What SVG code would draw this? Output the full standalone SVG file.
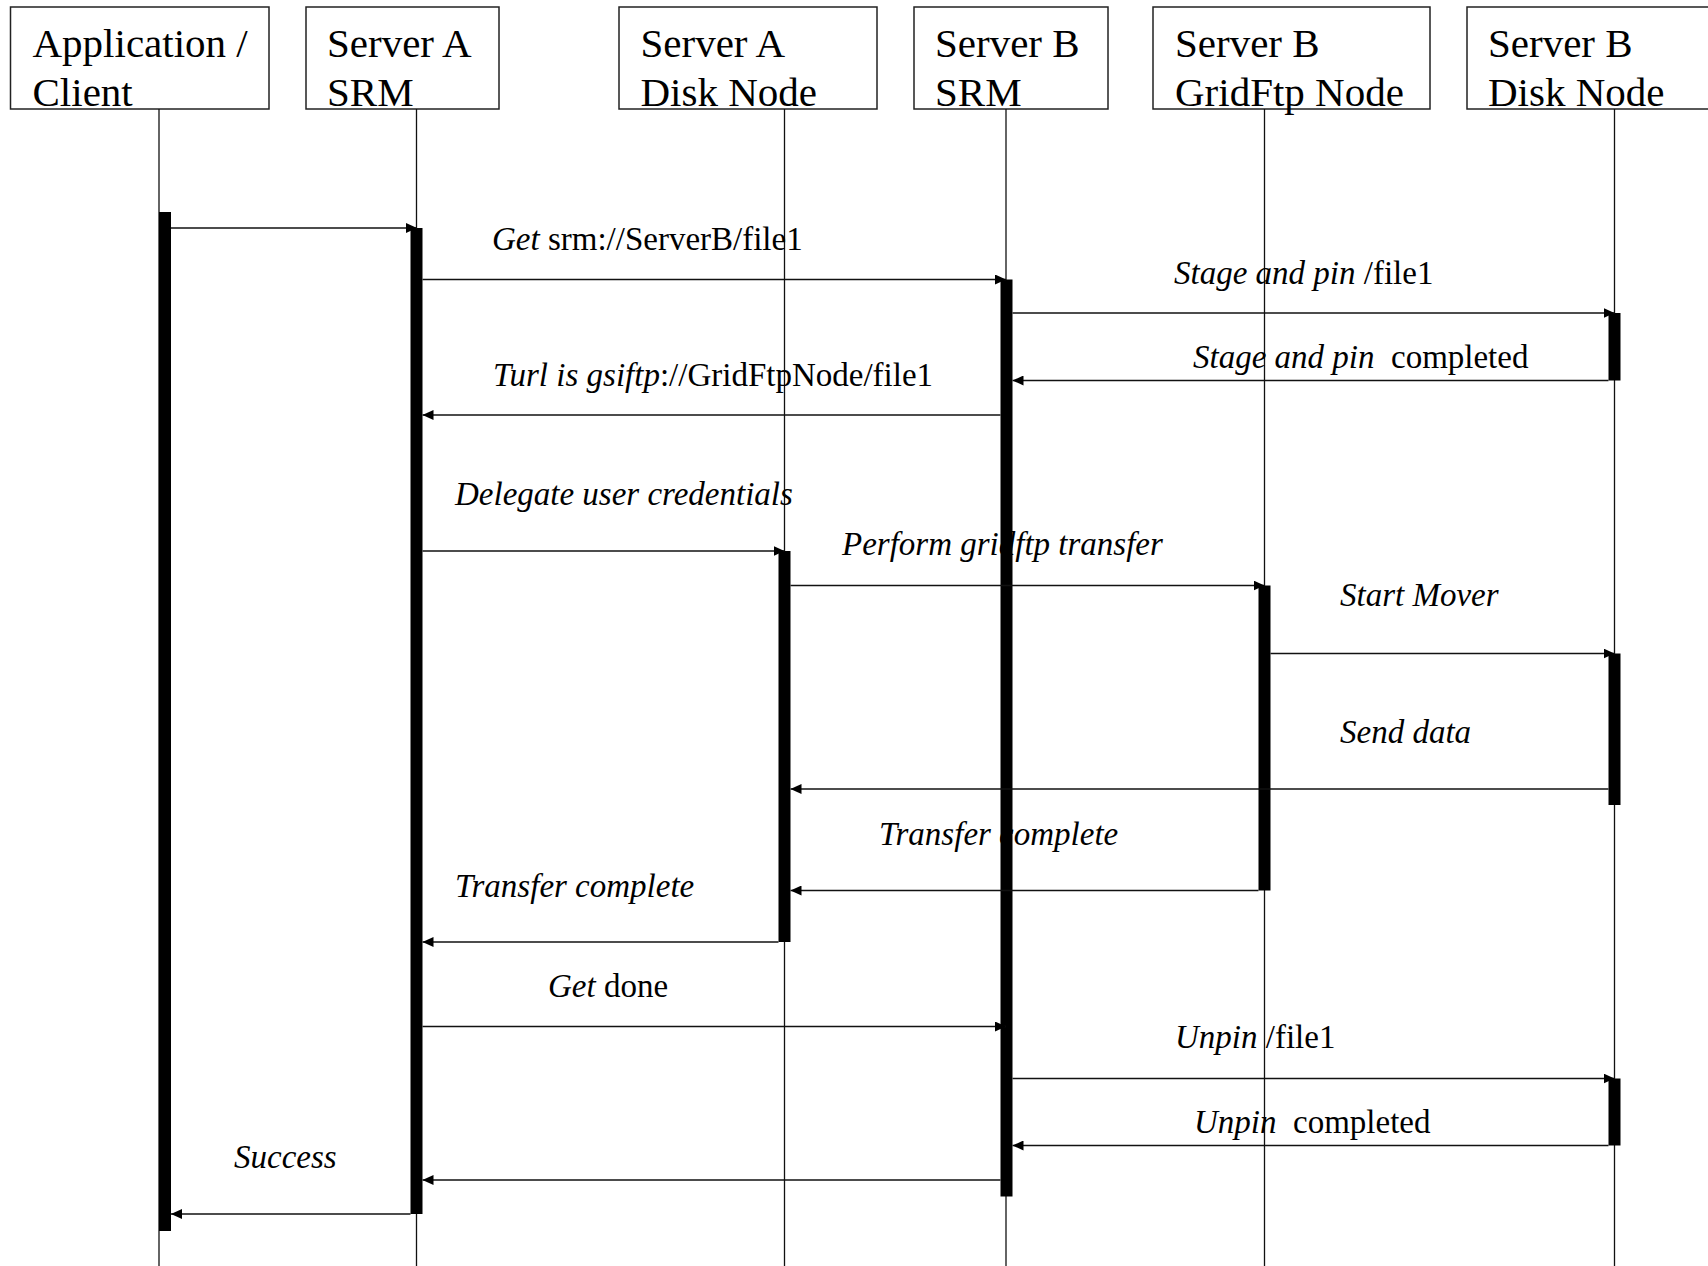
<svg xmlns="http://www.w3.org/2000/svg" width="1708" height="1266" viewBox="0 0 1708 1266">
<defs>
<style>
.box{fill:#fff;stroke:#222;stroke-width:1.5}
.title{font-family:"Liberation Serif","Times New Roman",serif;font-size:41px;fill:#000}
.life{stroke:#111;stroke-width:1.3;fill:none}
.bar{fill:#000}
.msg{stroke:#111;stroke-width:1.3;fill:none;marker-end:url(#ah)}
.lbl{font-family:"Liberation Serif","Times New Roman",serif;font-size:33px;fill:#000;white-space:pre}
.i{font-style:italic}
</style>
<marker id="ah" markerUnits="userSpaceOnUse" markerWidth="11" markerHeight="10" refX="11" refY="5" orient="auto">
<path d="M0,0 L11,5 L0,10 z" fill="#000"/>
</marker>
</defs>
<rect width="1708" height="1266" fill="#fff"/>

<g id="node-client">
<rect class="box" x="10.5" y="7" width="258.5" height="102"/>
<text class="title" x="32.5" y="57">Application /</text>
<text class="title" x="32.5" y="106">Client</text>
<line class="life" x1="159" y1="109" x2="159" y2="1266"/>
<rect class="bar" x="159" y="212" width="12" height="1019"/>
</g>

<g id="node-srmA">
<rect class="box" x="306" y="7" width="193" height="102"/>
<text class="title" x="327" y="57">Server A</text>
<text class="title" x="327" y="106">SRM</text>
<line class="life" x1="416.5" y1="109" x2="416.5" y2="1266"/>
<rect class="bar" x="410.5" y="228" width="12" height="986"/>
</g>

<g id="node-diskA">
<rect class="box" x="619" y="7" width="258" height="102"/>
<text class="title" x="640.5" y="57">Server A</text>
<text class="title" x="640.5" y="106">Disk Node</text>
<line class="life" x1="784.5" y1="109" x2="784.5" y2="1266"/>
<rect class="bar" x="778.5" y="551" width="12" height="391"/>
</g>

<g id="node-srmB">
<rect class="box" x="914" y="7" width="194" height="102"/>
<text class="title" x="935" y="57">Server B</text>
<text class="title" x="935" y="106">SRM</text>
<line class="life" x1="1006" y1="109" x2="1006" y2="1266"/>
<rect class="bar" x="1000.5" y="279.5" width="12" height="917"/>
</g>

<g id="node-gridftpB">
<rect class="box" x="1153" y="7" width="277" height="102"/>
<text class="title" x="1175" y="57">Server B</text>
<text class="title" x="1175" y="106">GridFtp Node</text>
<line class="life" x1="1264.5" y1="109" x2="1264.5" y2="1266"/>
<rect class="bar" x="1258.5" y="585.5" width="12" height="305"/>
</g>

<g id="node-diskB">
<rect class="box" x="1467" y="7" width="260" height="102"/>
<text class="title" x="1488" y="57">Server B</text>
<text class="title" x="1488" y="106">Disk Node</text>
<line class="life" x1="1614.5" y1="109" x2="1614.5" y2="1266"/>
<rect class="bar" x="1608.5" y="313" width="12" height="67.5"/>
<rect class="bar" x="1608.5" y="653.5" width="12" height="151.5"/>
<rect class="bar" x="1608.5" y="1078.5" width="12" height="67"/>
</g>

<g id="connectors">
<line class="msg" x1="171" y1="228" x2="417" y2="228"/>
<line class="msg" x1="422.5" y1="279.5" x2="1006" y2="279.5"/>
<line class="msg" x1="1012.5" y1="313" x2="1614.5" y2="313"/>
<line class="msg" x1="1608.5" y1="380.5" x2="1012.5" y2="380.5"/>
<line class="msg" x1="1000.5" y1="415" x2="422.5" y2="415"/>
<line class="msg" x1="422.5" y1="551" x2="784.5" y2="551"/>
<line class="msg" x1="790.5" y1="585.5" x2="1264.5" y2="585.5"/>
<line class="msg" x1="1270.5" y1="653.5" x2="1614.5" y2="653.5"/>
<line class="msg" x1="1608.5" y1="789" x2="790.5" y2="789"/>
<line class="msg" x1="1258.5" y1="890.5" x2="790.5" y2="890.5"/>
<line class="msg" x1="778.5" y1="942" x2="422.5" y2="942"/>
<line class="msg" x1="422.5" y1="1026.5" x2="1006" y2="1026.5"/>
<line class="msg" x1="1012.5" y1="1078.5" x2="1614.5" y2="1078.5"/>
<line class="msg" x1="1608.5" y1="1145.5" x2="1012.5" y2="1145.5"/>
<line class="msg" x1="1000.5" y1="1180" x2="422.5" y2="1180"/>
<line class="msg" x1="410.5" y1="1214" x2="171" y2="1214"/>

<text class="lbl" x="492" y="250"><tspan class="i">Get</tspan> srm://ServerB/file1</text>
<text class="lbl" x="1174" y="284"><tspan class="i">Stage and pin</tspan> /file1</text>
<text class="lbl" x="1193" y="368"><tspan class="i">Stage and pin</tspan>  completed</text>
<text class="lbl" x="493" y="386"><tspan class="i">Turl is gsiftp</tspan>://GridFtpNode/file1</text>
<text class="lbl i" x="455" y="505">Delegate user credentials</text>
<text class="lbl i" x="842" y="555">Perform gridftp transfer</text>
<text class="lbl i" x="1340" y="606">Start Mover</text>
<text class="lbl i" x="1340" y="743">Send data</text>
<text class="lbl i" x="879" y="845">Transfer complete</text>
<text class="lbl i" x="455" y="897">Transfer complete</text>
<text class="lbl" x="548" y="997"><tspan class="i">Get</tspan> done</text>
<text class="lbl" x="1175" y="1048"><tspan class="i">Unpin</tspan> /file1</text>
<text class="lbl" x="1194" y="1133"><tspan class="i">Unpin</tspan>  completed</text>
<text class="lbl i" x="234" y="1168">Success</text>
</g>
</svg>
